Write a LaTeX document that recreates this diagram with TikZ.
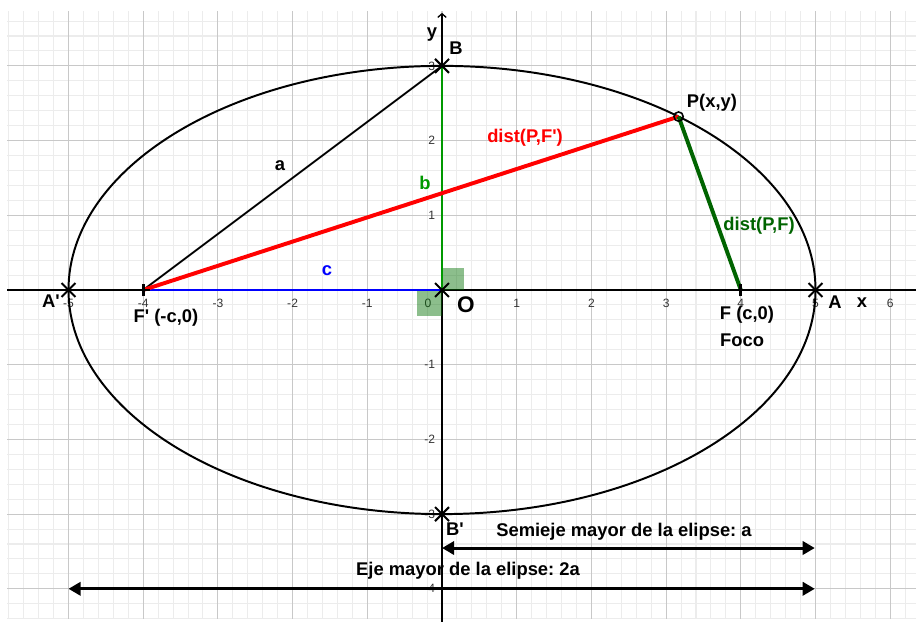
\documentclass[tikz,border=0pt]{standalone}
\usepackage{fontspec}
\setmainfont{Liberation Sans}
\usetikzlibrary{arrows.meta,shapes.misc}
\definecolor{dgreen}{RGB}{0,100,0}
\definecolor{bgreen}{RGB}{0,153,0}
\definecolor{pblue}{RGB}{0,0,255}
\definecolor{pred}{RGB}{255,0,0}
\definecolor{minorgrid}{RGB}{236,236,236}
\definecolor{majorgrid}{RGB}{200,200,200}
\definecolor{anglefill}{RGB}{0,110,0}
\frenchspacing
\begin{document}
\begin{tikzpicture}[
  lab/.style={font=\fontsize{7}{8}\selectfont\bfseries, inner sep=0pt},
  biglab/.style={font=\fontsize{8.6}{10}\selectfont\bfseries, inner sep=0pt},
  ticklab/.style={font=\fontsize{4.6}{5}\selectfont, text=black!80, inner sep=0pt},
  xpoint/.style={cross out, draw=black, line width=0.75pt, minimum size=0.16cm, inner sep=0pt},
  curve/.style={line width=0.75pt},
  dimarrow/.style={line width=1.15pt, {Triangle[length=4.6pt,width=5pt]}-{Triangle[length=4.6pt,width=5pt]}},
  anglesq/.style={fill=anglefill, fill opacity=0.45}
]
\useasboundingbox (-5.917,-4.444) rectangle (6.345,3.882);
% grid
\begin{scope}
  \clip (-5.823,-4.391) rectangle (6.345,3.722);
  \draw[minorgrid, line width=0.4pt, step=0.2] (-6.2,-4.6) grid (6.6,4);
  \draw[majorgrid, line width=0.45pt, step=1] (-6.2,-4.6) grid (6.6,4);
\end{scope}
% key points
\coordinate (O) at (0,0);
\coordinate (A) at (5,0);
\coordinate (Ap) at (-5,0);
\coordinate (B) at (0,3);
\coordinate (Bp) at (0,-3);
\coordinate (F) at (4,0);
\coordinate (Fp) at (-4,0);
\coordinate (P) at ({5*cos(50.7)},{3*sin(50.7)});
\coordinate (xl) at (-5.823,0);
\coordinate (xr) at (6.345,0);
\coordinate (yb) at (0,-4.444);
\coordinate (yt) at (0,3.71);
% axes
\draw[line width=0.5pt] (xl) -- (xr);
\draw[line width=0.5pt, -{Straight Barb[length=1.4pt,width=3.2pt]}] (yb) -- (yt);
% tick labels
\foreach \i in {-5,-4,-3,-2,-1,1,2,3,4,5,6}
  \node[ticklab] (tx\i) at (\i,-0.174) {\i};
\node[ticklab] (tx0) at (-0.187,-0.174) {0};
\foreach \j in {-4,-3,-2,-1,1,2,3}
  \node[ticklab, anchor=east] (ty\j) at (-0.085,\j) {\j};
% angle squares
\fill[anglesq] (0,0) rectangle (0.295,0.295);
\fill[anglesq] (-0.335,-0.35) rectangle (0,0);
% ellipse
\draw[curve] (O) ellipse [x radius=5, y radius=3];
% segments
\draw[line width=0.7pt] (Fp) -- (B);
\draw[bgreen, line width=0.7pt] (O) -- (B);
\draw[pblue, line width=0.6pt] (Fp) -- (O);
\draw[pred, line width=1.5pt] (Fp) -- (P);
\draw[dgreen, line width=1.5pt] (P) -- (F);
% point marks
\node[xpoint] (mA) at (A) {};
\node[xpoint] (mAp) at (Ap) {};
\node[xpoint] (mB) at (B) {};
\node[xpoint] (mBp) at (Bp) {};
\node[xpoint] (mO) at (O) {};
\draw[line width=1.1pt] (Fp) ++(-0.085,0) -- ++(0.17,0) (Fp) ++(0,-0.085) -- ++(0,0.17);
\draw[line width=1.1pt] (F) ++(-0.085,0) -- ++(0.17,0) (F) ++(0,-0.085) -- ++(0,0.17);
\draw[line width=0.6pt] (P) circle [radius=0.062];
% labels
\node[lab] (ly) at (-0.134,3.414) {y};
\node[lab] (lB) at (0.187,3.24) {B};
\node[lab] (lAp) at (-5.234,-0.147) {A\textquotesingle};
\node[lab] (lFp) at (-3.695,-0.375) {F\textquotesingle\ (-c,0)};
\node[biglab] (lO) at (0.321,-0.201) {O};
\node[lab] (lA) at (5.261,-0.161) {A};
\node[lab] (lx) at (5.622,-0.174) {x};
\node[lab] (lF) at (4.083,-0.335) {F (c,0)};
\node[lab] (lFoco) at (4.016,-0.675) {Foco};
\node[lab] (lP) at (3.614,2.503) {P(x,y)};
\node[lab, text=dgreen] (ldPF) at (4.244,0.857) {dist(P,F)};
\node[lab, text=pred] (ldPFp) at (1.111,2.035) {dist(P,F\textquotesingle)};
\node[lab] (la) at (-2.169,1.660) {a};
\node[lab, text=bgreen] (lb) at (-0.228,1.432) {b};
\node[lab, text=pblue] (lc) at (-1.540,0.254) {c};
\node[lab] (lBp) at (0.174,-3.206) {B\textquotesingle};
% dimension arrows
\coordinate (s1) at (0,-3.454);
\coordinate (s2) at (4.99,-3.454);
\coordinate (e1) at (-5,-4);
\coordinate (e2) at (4.99,-4);
\draw[dimarrow] (s1) -- (s2);
\draw[dimarrow] (e1) -- (e2);
\node[lab] (lsemi) at (2.436,-3.24) {Semieje mayor de la elipse: a};
\node[lab] (leje) at (0.348,-3.76) {Eje mayor de la elipse: 2a};
\end{tikzpicture}
\end{document}
